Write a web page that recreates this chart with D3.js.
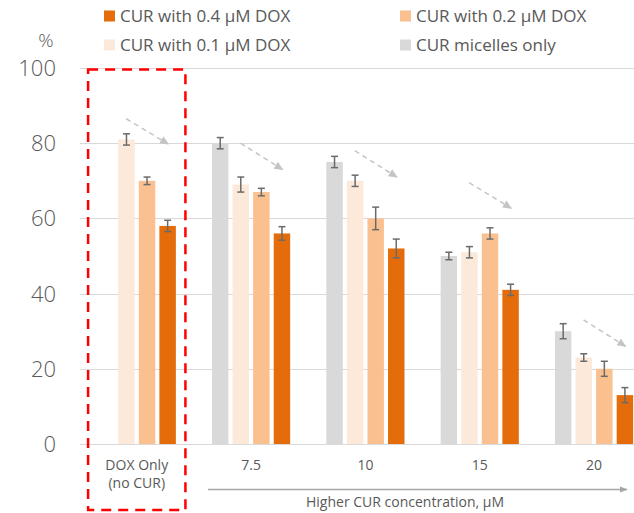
<!DOCTYPE html>
<html>
<head>
<meta charset="utf-8">
<script src="https://cdn.jsdelivr.net/npm/d3@7"></script>
<style>
  body { margin: 0; background: #fff; }
  svg { display: block; font-family: "Open Sans", "Noto Sans", sans-serif; }
  .tick-label { fill: #595959; }
</style>
</head>
<body>
<div id="chart"></div>
<script>
// categories (x groups) and series
var categories = ["DOX Only|(no CUR)", "7.5", "10", "15", "20"];
var seriesNames = ["CUR micelles only", "CUR with 0.1 \u03bcM DOX", "CUR with 0.2 \u03bcM DOX", "CUR with 0.4 \u03bcM DOX"];
var seriesColors = ["#d9d9d9", "#fde9d9", "#fac090", "#e46c0a"];

// values (%) per series, null = not measured
var micellesOnly = [null, 80, 75, 50, 30];
var dox01 = [81, 69, 70, 51, 23];
var dox02 = [70, 67, 60, 56, 20];
var dox04 = [58, 56, 52, 41, 13];

// error bar half-widths
var micellesOnlyErr = [null, 1.5, 1.5, 1, 2];
var dox01Err = [1.5, 2, 1.5, 1.5, 1];
var dox02Err = [1, 1, 3, 1.5, 2];
var dox04Err = [1.5, 1.8, 2.5, 1.5, 2];

// trend arrows (value at start / end)
var arrowFrom = [86.5, 80, 78, 69.5, 33];
var arrowTo = [79.8, 73, 71, 62.7, 26];

var yTicks = [0, 20, 40, 60, 80, 100];
var legendOrder = [3, 2, 1, 0];

var width = 634, height = 513;
var seriesValues = [micellesOnly, dox01, dox02, dox04];
var seriesErrors = [micellesOnlyErr, dox01Err, dox02Err, dox04Err];

var svg = d3.select("#chart").append("svg")
    .attr("width", width)
    .attr("height", height);

var defs = svg.append("defs");
defs.append("marker")
    .attr("id", "trendHead")
    .attr("viewBox", "0 0 10 10")
    .attr("refX", 9).attr("refY", 5)
    .attr("markerWidth", 6).attr("markerHeight", 6)
    .attr("orient", "auto")
    .append("path")
    .attr("d", "M0,0.5L10,5L0,9.5Z")
    .attr("fill", "#c4c4c4");
defs.append("marker")
    .attr("id", "axisHead")
    .attr("viewBox", "0 0 10 10")
    .attr("refX", 9).attr("refY", 5)
    .attr("markerWidth", 6).attr("markerHeight", 6)
    .attr("orient", "auto")
    .append("path")
    .attr("d", "M0,1L10,5L0,9Z")
    .attr("fill", "#a6a6a6");

// scales
var x0 = d3.scaleBand()
    .domain(categories)
    .range([79.6, 651.2])
    .paddingInner(0.28)
    .paddingOuter(0.14);

var x1 = d3.scaleBand()
    .domain(d3.range(seriesNames.length))
    .range([0, x0.bandwidth()])
    .paddingInner(0.2)
    .paddingOuter(0.1);

var y = d3.scaleLinear()
    .domain([0, 100])
    .range([444, 68]);

// gridlines
svg.append("g")
    .attr("class", "grid")
    .selectAll("line")
    .data(yTicks)
    .enter()
    .append("line")
    .attr("x1", 80)
    .attr("x2", width)
    .attr("y1", function(d) { return Math.round(y(d)) + 0.5; })
    .attr("y2", function(d) { return Math.round(y(d)) + 0.5; })
    .attr("stroke", "#d9d9d9")
    .attr("stroke-width", 1.2);

// y labels
svg.append("g")
    .selectAll("text")
    .data(yTicks)
    .enter()
    .append("text")
    .attr("class", "tick-label")
    .attr("x", 56)
    .attr("y", function(d) { return y(d) + 8; })
    .attr("text-anchor", "end")
    .style("font-size", "22px")
    .style("font-weight", 300)
    .text(function(d) { return d; });

svg.append("text")
    .attr("class", "tick-label")
    .attr("x", 46)
    .attr("y", 47)
    .attr("text-anchor", "middle")
    .style("font-size", "19px")
    .style("font-weight", 300)
    .text("%");

// bars
var barData = [];
categories.forEach(function(c, ci) {
    seriesValues.forEach(function(vals, si) {
        if (vals[ci] !== null) {
            barData.push({cat: c, s: si, value: vals[ci], err: seriesErrors[si][ci]});
        }
    });
});

svg.append("g")
    .selectAll("rect")
    .data(barData)
    .enter()
    .append("rect")
    .attr("x", function(d) { return x0(d.cat) + x1(d.s); })
    .attr("width", x1.bandwidth())
    .attr("y", function(d) { return y(d.value); })
    .attr("height", function(d) { return y(0) - y(d.value); })
    .attr("fill", function(d) { return seriesColors[d.s]; });

// error bars
var errG = svg.append("g")
    .attr("stroke", "#6b6b6b")
    .attr("stroke-width", 1.5);

barData.forEach(function(d) {
    var cx = x0(d.cat) + x1(d.s) + x1.bandwidth() / 2;
    var yTop = y(d.value + d.err), yBot = y(d.value - d.err);
    errG.append("line").attr("x1", cx).attr("x2", cx).attr("y1", yTop).attr("y2", yBot);
    errG.append("line").attr("x1", cx - 3.5).attr("x2", cx + 3.5).attr("y1", yTop).attr("y2", yTop);
    errG.append("line").attr("x1", cx - 3.5).attr("x2", cx + 3.5).attr("y1", yBot).attr("y2", yBot);
});

// trend arrows
svg.append("g")
    .selectAll("line")
    .data(categories)
    .enter()
    .append("line")
    .attr("x1", function(d) { return x0(d) + x1(1) + 8; })
    .attr("x2", function(d) { return x0(d) + x1(1) + 50; })
    .attr("y1", function(d, i) { return y(arrowFrom[i]); })
    .attr("y2", function(d, i) { return y(arrowTo[i]); })
    .attr("stroke", "#c4c4c4")
    .attr("stroke-width", 1.5)
    .attr("stroke-dasharray", "5,4")
    .attr("marker-end", "url(#trendHead)");

// x labels
var xLab = svg.append("g")
    .selectAll("text")
    .data(categories)
    .enter()
    .append("text")
    .attr("class", "tick-label")
    .attr("text-anchor", "middle")
    .attr("x", function(d) { return x0(d) + x0.bandwidth() / 2; })
    .attr("y", 470)
    .style("font-size", "14px");

xLab.each(function(d) {
    var parts = d.split("|");
    var t = d3.select(this);
    parts.forEach(function(p, i) {
        t.append("tspan")
            .attr("x", x0(d) + x0.bandwidth() / 2)
            .attr("dy", i === 0 ? 0 : 18)
            .text(p);
    });
});

// red dashed box around DOX only group
svg.append("rect")
    .attr("x", x0(categories[0]) - 7.5)
    .attr("y", y(100) + 1.5)
    .attr("width", x0.bandwidth() + 15)
    .attr("height", 510 - y(100) - 1.5)
    .attr("fill", "none")
    .attr("stroke", "#ff0000")
    .attr("stroke-width", 2.5)
    .attr("stroke-dasharray", "10,7");

// concentration axis arrow
svg.append("line")
    .attr("x1", x0(categories[1]) - 2)
    .attr("x2", 627)
    .attr("y1", 489.5)
    .attr("y2", 489.5)
    .attr("stroke", "#a6a6a6")
    .attr("stroke-width", 1.3)
    .attr("marker-end", "url(#axisHead)");

svg.append("text")
    .attr("class", "tick-label")
    .attr("x", 405)
    .attr("y", 507)
    .attr("text-anchor", "middle")
    .style("font-size", "14px")
    .text("Higher CUR concentration, \u03bcM");

// legend
var legend = svg.append("g")
    .selectAll("g")
    .data(legendOrder)
    .enter()
    .append("g")
    .attr("transform", function(d, i) {
        return "translate(" + (i % 2 === 0 ? 104 : 400) + "," + (i < 2 ? 16 : 45) + ")";
    });

legend.append("rect")
    .attr("x", 0)
    .attr("y", -5.5)
    .attr("width", 11)
    .attr("height", 11)
    .attr("fill", function(d) { return seriesColors[d]; });

legend.append("text")
    .attr("class", "tick-label")
    .attr("x", 16)
    .attr("y", 6)
    .style("font-size", "17px")
    .text(function(d) { return seriesNames[d]; });
</script>
</body>
</html>
